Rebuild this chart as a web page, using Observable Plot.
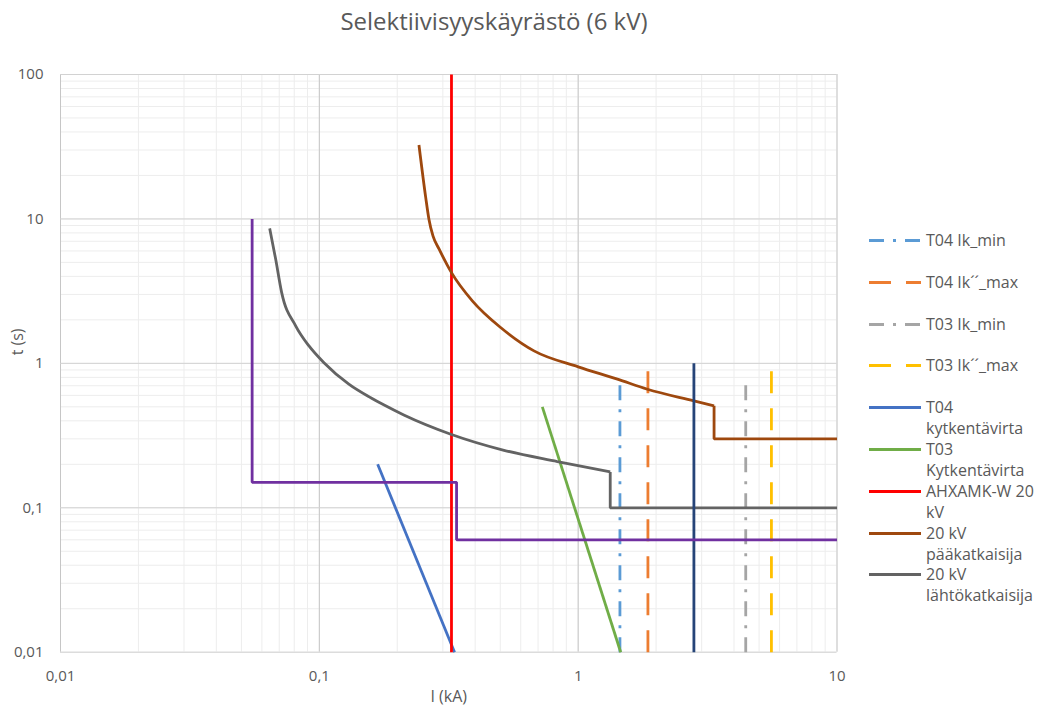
<!DOCTYPE html>
<html>
<head>
<meta charset="utf-8">
<script src="https://cdn.jsdelivr.net/npm/d3@7"></script>
<script src="https://cdn.jsdelivr.net/npm/@observablehq/plot@0.6"></script>
<style>
  body { margin: 0; background: #fff; font-family: "Open Sans", sans-serif; }
  #wrap { position: relative; width: 1040px; height: 715px; overflow: hidden; }
  #title { position: relative; height: 50px; }
  #title span { position: absolute; left: 494px; top: 20px; transform: translate(-50%, -50%);
    font-size: 24px; color: #595959; white-space: nowrap; }
  #legend { position: absolute; left: 869px; top: 0; }
  .item { position: absolute; left: 0; display: flex; align-items: flex-start; }
  .item svg { flex: none; }
  .item .lab { margin-left: 5px; font-size: 16px; line-height: 21px; color: #595959; white-space: nowrap; }
</style>
</head>
<body>
<div id="wrap">
  <div id="title"><span>Selektiivisyyskäyrästö (6 kV)</span></div>
  <div id="chart"></div>
  <div id="legend"></div>
</div>
<script>
// ---- axis ticks ----
const xTicks = [0.01, 0.1, 1, 10];
const yTicks = [0.01, 0.1, 1, 10, 100];

// ---- short-circuit current markers (vertical lines, kA) ----
const markerNames   = ["T04 Ik_min", "T04 Ik´´_max", "T03 Ik_min", "T03 Ik´´_max"];
const markerCurrent = [1.45, 1.86, 4.44, 5.58];
const markerTop     = [0.8, 1, 0.8, 1];

// ---- switching (inrush) currents ----
const t04SwitchI = [0.168, 0.333];
const t04SwitchT = [0.2, 0.01];
const t03SwitchI = [0.727, 1.46];
const t03SwitchT = [0.5, 0.01];

// ---- cable AHXAMK-W 20 kV ----
const cableI = [0.324, 0.324];
const cableT = [0.01, 100];

// ---- 20 kV pääkatkaisija (inverse-time curve, then definite-time step) ----
const mainI = [0.2426, 0.2576, 0.265, 0.275, 0.29, 0.324, 0.39, 0.5017, 0.675, 1.0, 1.418, 1.851, 2.8, 3.35, 3.35, 10];
const mainT = [32.5, 14.1, 10.0, 7.6, 6.2, 4.25, 2.71, 1.77, 1.22, 0.946, 0.777, 0.662, 0.55, 0.508, 0.3, 0.3];

// ---- 20 kV lähtökatkaisija ----
const feederI = [0.0643, 0.0678, 0.0715, 0.081, 0.0912, 0.1042, 0.13, 0.158, 0.178, 0.212, 0.322, 0.517, 0.831, 1.33, 1.33, 10];
const feederT = [8.6, 5.27, 3.1, 1.82, 1.32, 1.01, 0.718, 0.578, 0.514, 0.439, 0.323, 0.25, 0.209, 0.177, 0.1, 0.1];

// ---- unlabelled series ----
const navyI = [2.8, 2.8];
const navyT = [0.01, 1];
const purpleI = [0.055, 0.055, 0.339, 0.339, 10];
const purpleT = [10, 0.15, 0.15, 0.06, 0.06];

// ---- styles ----
const styles = {
  "T04 Ik_min":   {stroke: "#5B9BD5", dash: "15,9,3,9"},
  "T04 Ik´´_max": {stroke: "#ED7D31", dash: "22,15"},
  "T03 Ik_min":   {stroke: "#A5A5A5", dash: "15,9,3,9"},
  "T03 Ik´´_max": {stroke: "#FFC000", dash: "22,15"},
  "T04 kytkentävirta": {stroke: "#4472C4"},
  "T03 Kytkentävirta": {stroke: "#70AD47"},
  "AHXAMK-W 20 kV": {stroke: "#FF0000"},
  "20 kV pääkatkaisija": {stroke: "#9E480E"},
  "20 kV lähtökatkaisija": {stroke: "#636363"},
  navy: {stroke: "#264478"},
  purple: {stroke: "#7030A0"}
};
const SW = 2.8;

const pts = (xs, ys) => xs.map((x, i) => ({x, y: ys[i]}));
const line = (xs, ys, key, curve = "linear") => Plot.line(pts(xs, ys), {
  x: "x", y: "y", stroke: styles[key].stroke, strokeWidth: SW, curve,
  strokeDasharray: styles[key].dash, strokeLinecap: "butt", strokeLinejoin: "miter"
});
// smooth inverse-time part up to the knee, straight step afterwards
const relay = (xs, ys, key) => {
  const k = xs.findIndex((x, i) => i > 0 && x === xs[i - 1]) - 1; // knee index
  return [
    line(xs.slice(0, k + 1), ys.slice(0, k + 1), key, "monotone-x"),
    line(xs.slice(k), ys.slice(k), key)
  ];
};

const markerMarks = markerNames.map((n, i) =>
  line([markerCurrent[i], markerCurrent[i]], [0.01, markerTop[i]], n));

const fmt = d => String(d).replace(".", ",");

const chart = Plot.plot({
  width: 1040,
  height: 665,
  marginTop: 24,
  marginBottom: 63.3,
  marginLeft: 60,
  marginRight: 203.5,
  x: {type: "log", domain: [0.01, 10]},
  y: {type: "log", domain: [0.01, 100]},
  style: {fontFamily: "Open Sans, sans-serif", fontSize: "15px", color: "#595959", background: "white", overflow: "visible"},
  marks: [
    Plot.gridX({ticks: 10, stroke: "#ededed", strokeOpacity: 1, strokeWidth: 1}),
    Plot.gridY({ticks: 10, stroke: "#ededed", strokeOpacity: 1, strokeWidth: 1}),
    Plot.gridX(xTicks, {stroke: "#c6c6c6", strokeOpacity: 1, strokeWidth: 1}),
    Plot.gridY(yTicks, {stroke: "#d2d2d2", strokeOpacity: 1, strokeWidth: 1}),
    Plot.axisX(xTicks, {tickSize: 0, tickPadding: 18, tickFormat: fmt, label: null, fill: "#595959"}),
    Plot.axisY(yTicks, {tickSize: 0, tickPadding: 17, tickFormat: fmt, label: null, fill: "#595959"}),
    Plot.text(["I (kA)"], {frameAnchor: "bottom", dy: 50, fill: "#595959", fontSize: 16}),
    Plot.text(["t (s)"], {frameAnchor: "left", dx: -43, dy: -8, rotate: -90, fill: "#595959", fontSize: 16}),
    ...markerMarks,
    line(t04SwitchI, t04SwitchT, "T04 kytkentävirta"),
    line(t03SwitchI, t03SwitchT, "T03 Kytkentävirta"),
    line(cableI, cableT, "AHXAMK-W 20 kV"),
    ...relay(mainI, mainT, "20 kV pääkatkaisija"),
    ...relay(feederI, feederT, "20 kV lähtökatkaisija"),
    line(navyI, navyT, "navy"),
    line(purpleI, purpleT, "purple")
  ]
});
document.getElementById("chart").appendChild(chart);

// ---- legend ----
const legendNames = [...markerNames, "T04 kytkentävirta", "T03 Kytkentävirta", "AHXAMK-W 20 kV", "20 kV pääkatkaisija", "20 kV lähtökatkaisija"];
const legendLines = {
  "T04 kytkentävirta": ["T04", "kytkentävirta"],
  "T03 Kytkentävirta": ["T03", "Kytkentävirta"],
  "AHXAMK-W 20 kV": ["AHXAMK-W 20", "kV"],
  "20 kV pääkatkaisija": ["20 kV", "pääkatkaisija"],
  "20 kV lähtökatkaisija": ["20 kV", "lähtökatkaisija"]
};
const legend = document.getElementById("legend");
legendNames.forEach((name, i) => {
  const st = styles[name];
  const item = document.createElement("div");
  item.className = "item";
  item.style.top = (230 + i * 41.8) + "px";
  const ns = "http://www.w3.org/2000/svg";
  const svg = document.createElementNS(ns, "svg");
  svg.setAttribute("width", 52); svg.setAttribute("height", 21);
  const ln = document.createElementNS(ns, "line");
  ln.setAttribute("x1", 0); ln.setAttribute("x2", 52);
  ln.setAttribute("y1", 10.5); ln.setAttribute("y2", 10.5);
  ln.setAttribute("stroke", st.stroke); ln.setAttribute("stroke-width", SW);
  if (st.dash) ln.setAttribute("stroke-dasharray", st.dash);
  svg.appendChild(ln);
  item.appendChild(svg);
  const lab = document.createElement("div");
  lab.className = "lab";
  (legendLines[name] || [name]).forEach((t, k) => {
    if (k) lab.appendChild(document.createElement("br"));
    lab.appendChild(document.createTextNode(t));
  });
  item.appendChild(lab);
  legend.appendChild(item);
});
</script>
</body>
</html>
